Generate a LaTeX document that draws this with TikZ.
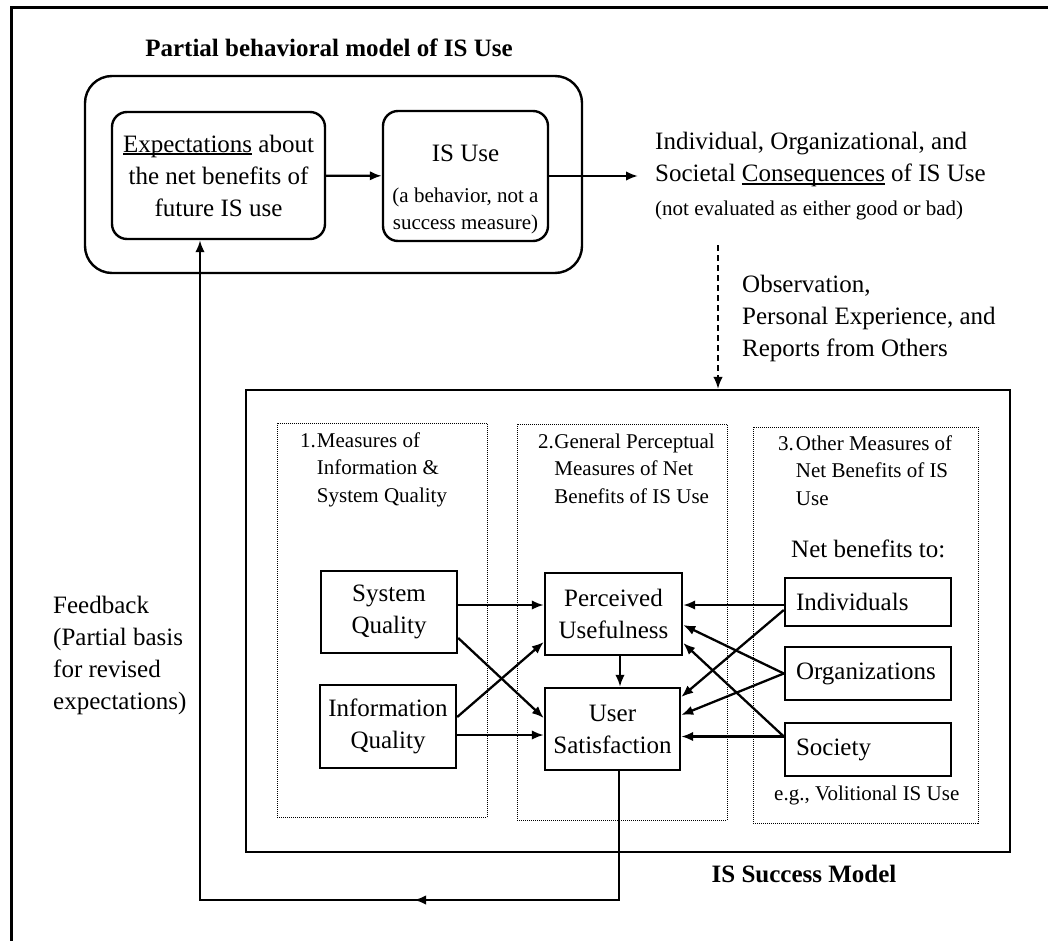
\documentclass[tikz,border=0pt]{standalone}
\usepackage{fontspec}
\setmainfont{Liberation Serif}
\usetikzlibrary{arrows.meta}
\newcommand\fsz[2]{\fontsize{#1}{#2}\selectfont}
\newcommand\myul[1]{\setbox0\hbox{#1}\rlap{\rule[-2.6pt]{\wd0}{1.2pt}}\box0\relax}
\begin{document}
\begin{tikzpicture}[x=1pt,y=-1pt,
  every node/.style={inner sep=0pt},
  body/.style={font=\fsz{25}{32}},
  small/.style={font=\fsz{21}{27}},
  head/.style={font=\fsz{21}{27.5}},
  ttl/.style={font=\fsz{25}{32}\bfseries},
  rbox/.style={draw,line width=2.4pt,rounded corners=15pt,align=center,body},
  sbox/.style={draw,line width=2.4pt,align=center,body},
  lbox/.style={draw,line width=2.4pt,body,text width=144pt,align=left,inner xsep=11pt,minimum width=166pt},
  dbox/.style={draw,line width=1pt,densely dotted},
  arr/.style={-{Latex[length=12pt,width=9.5pt]},line width=2.3pt},
]
\useasboundingbox (0,0) rectangle (1048,941);
\fill[white] (0,0) rectangle (1048,941);
% outer frame (cropped)
\draw[line width=3pt] (11,941) -- (11,8) -- (1048,8);

% title
\node[ttl,anchor=base] (title) at (329,57) {Partial behavioral model of IS Use};

% partial behavioral model
\node[draw,line width=2.4pt,rounded corners=27pt,minimum width=497pt,minimum height=197pt] (pbm) at (333.5,174.5) {};
\node[rbox,minimum width=213pt,minimum height=127pt] (exp) at (218.5,175.5)
  {\myul{Expectations} about\\the net benefits of\\future IS use};
\node[draw,line width=2.4pt,rounded corners=15pt,minimum width=165pt,minimum height=130pt] (isuse) at (465.5,176) {};
\node[body,anchor=base] (isuset) at (465.5,162) {IS Use};
\node[small,anchor=base] (isusesub) at (465.5,203)
  {\begin{tabular}[t]{@{}c@{}}(a behavior, not a\\success measure)\end{tabular}};

% consequences
\node[body,anchor=base west] (conseq) at (655,150)
  {\begin{tabular}[t]{@{}l@{}}Individual, Organizational, and\\Societal \myul{Consequences} of IS Use\\[2pt]{\fsz{21}{27}(not evaluated as either good or bad)}\end{tabular}};
\draw[arr] (isuse.east) -- (isuse.east -| conseq.west) [shorten >=17pt];

% observation
\node[body,anchor=base west] (obs) at (742,292)
  {\begin{tabular}[t]{@{}l@{}}Observation,\\Personal Experience, and\\Reports from Others\end{tabular}};

% feedback text
\node[body,anchor=base west] (fb) at (53,613)
  {\begin{tabular}[t]{@{}l@{}}Feedback\\(Partial basis\\for revised\\expectations)\end{tabular}};

% IS success model
\node[draw,line width=2.4pt,minimum width=764pt,minimum height=462pt] (isbox) at (628,621) {};
\node[ttl,anchor=base] (islabel) at (804,882) {IS Success Model};

\node[dbox,minimum width=210pt,minimum height=394pt] (d1) at (382,620) {};
\node[dbox,minimum width=210pt,minimum height=396pt] (d2) at (622,622) {};
\node[dbox,minimum width=225pt,minimum height=396pt] (d3) at (865.5,625) {};

\node[head,anchor=base west] (h1) at (300,447)
  {\begin{tabular}[t]{@{}l@{\hspace{1pt}}l@{}}1.&Measures of\\&Information \&\\&System Quality\end{tabular}};
\node[head,anchor=base west] (h2) at (538,448)
  {\begin{tabular}[t]{@{}l@{\hspace{0.5pt}}l@{}}2.&General Perceptual\\&Measures of Net\\&Benefits of IS Use\end{tabular}};
\node[head,anchor=base west] (h3) at (778,450)
  {\begin{tabular}[t]{@{}l@{\hspace{2pt}}l@{}}3.&Other Measures of\\&Net Benefits of IS\\&Use\end{tabular}};

\node[body,anchor=base west] (nbt) at (791,557) {Net benefits to:};
\node[small,anchor=base west] (eg) at (774,800) {e.g., Volitional IS Use};

\node[sbox,minimum width=136pt,minimum height=82pt] (sysq) at (389,612) {System\\Quality};
\node[sbox,minimum width=136pt,minimum height=83pt] (infq) at (388,726.5) {Information\\Quality};
\node[sbox,minimum width=137pt,minimum height=82pt] (pu) at (613.5,614) {Perceived\\Usefulness};
\node[sbox,minimum width=135pt,minimum height=82pt] (us) at (612.5,729) {User\\Satisfaction};
\node[lbox,minimum height=48pt] (ind) at (868,602) {Individuals};
\node[lbox,minimum height=53pt] (org) at (868,673.5) {Organizations};
\node[lbox,minimum height=53pt] (soc) at (868,749.5) {Society};

% top connectors
\draw[arr] (exp) -- (isuse);
\coordinate (obstop) at (718,245);
\draw[arr,line width=1.6pt,dash pattern=on 6pt off 4pt] (obstop) -- (obstop |- isbox.north);

% left connectors
\draw[arr] ([yshift=7pt]sysq.east) -- ([yshift=7pt]sysq.east -| pu.west);
\draw[arr] ([yshift=-8.5pt]infq.east) -- ([yshift=-8.5pt]infq.east -| us.west);
\draw[arr] ([yshift=-26pt]sysq.east) -- ([yshift=11pt]us.west);
\draw[arr] ([yshift=9.5pt]infq.east) -- ([yshift=-28pt]pu.west);
\draw[arr] ([xshift=6.5pt]pu.south) -- ([xshift=6.5pt]pu.south |- us.north);

% right connectors
\draw[arr] ([yshift=-3pt]ind.west) -- ([yshift=-3pt]ind.west -| pu.east);
\draw[arr] ([yshift=-8pt]ind.west) -- ([yshift=32pt]us.east);
\draw[arr] (org.west) -- ([yshift=-11pt]pu.east);
\draw[arr] (org.west) -- ([yshift=14pt]us.east);
\draw[arr] ([yshift=13pt]soc.west) -- ([yshift=-29pt]pu.east);
\draw[arr] ([yshift=13pt]soc.west) -- ([yshift=13pt]soc.west -| us.east);

% feedback loop
\coordinate (loopmid) at (414,900);
\draw[arr] ([xshift=6.5pt]us.south) |- ([xshift=-18.5pt]exp.south |- loopmid) -- ([xshift=-18.5pt]exp.south);
\draw[arr] ([xshift=6.5pt]us.south) |- (loopmid);
\end{tikzpicture}
\end{document}
